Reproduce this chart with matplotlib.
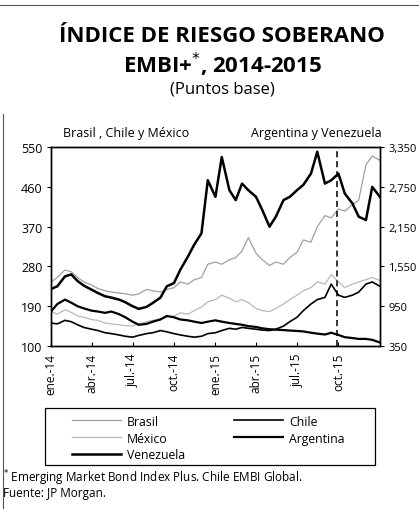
import pandas as pd
import matplotlib
import matplotlib.pyplot as plt
from matplotlib.lines import Line2D
from matplotlib.patches import Rectangle

plt.rcParams['font.family'] = ['Open Sans', 'DejaVu Sans']

# Semi-monthly readings, 1 Jan 2014 .. 1 Jan 2016
dates = pd.date_range('2014-01-01', '2016-01-01', freq='SMS')

# Left axis (pb)
brasil = [245, 255, 272, 268, 255, 245, 238, 230, 225, 222, 220, 218,
          215, 218, 228, 225, 222, 228, 232, 245, 240, 250, 255, 285,
          290, 285, 295, 300, 315, 345, 310, 295, 282, 290, 285, 300,
          312, 340, 335, 370, 395, 390, 410, 405, 420, 430, 510, 530, 520]
mexico = [178, 172, 182, 176, 168, 165, 160, 158, 152, 150, 148, 146,
          145, 150, 155, 158, 162, 165, 168, 175, 172, 180, 188, 200,
          205, 215, 208, 200, 205, 198, 185, 180, 178, 185, 195, 205,
          215, 225, 232, 245, 240, 262, 245, 232, 240, 245, 250, 255, 248]
chile = [152, 150, 158, 155, 148, 142, 138, 135, 130, 128, 125, 122,
         120, 124, 128, 130, 135, 132, 128, 125, 122, 120, 122, 128,
         130, 135, 140, 138, 142, 140, 138, 136, 135, 138, 145, 155,
         165, 180, 195, 205, 210, 240, 215, 210, 215, 222, 240, 245, 235]

# Right axis (pb)
argentina = [870, 983, 1050, 1003, 950, 917, 883, 870, 850, 870, 830, 783,
             717, 670, 683, 717, 750, 803, 783, 750, 737, 717, 697, 717,
             737, 717, 697, 683, 670, 650, 637, 617, 603, 597, 590, 583,
             577, 570, 550, 537, 523, 550, 517, 483, 470, 457, 457, 443, 403]
venezuela = [1210, 1250, 1400, 1430, 1330, 1260, 1200, 1150, 1100, 1080, 1050, 1010,
             950, 910, 940, 1000, 1080, 1250, 1300, 1500, 1700, 1880, 2050, 2850,
             2600, 3200, 2700, 2550, 2800, 2700, 2600, 2400, 2150, 2300, 2550, 2600,
             2700, 2780, 2950, 3280, 2800, 2850, 2950, 2650, 2500, 2300, 2250, 2750, 2600]

left_ticks = [100, 190, 280, 370, 460, 550]
right_ticks = [350, 950, 1550, 2150, 2750, 3350]
right_labels = ['350', '950', '1,550', '2,150', '2,750', '3,350']
x_ticks = pd.to_datetime(['2014-01-01', '2014-04-01', '2014-07-01', '2014-10-01',
                          '2015-01-01', '2015-04-01', '2015-07-01', '2015-10-01'])
x_labels = ['ene.-14', 'abr.-14', 'jul.-14', 'oct.-14',
            'ene.-15', 'abr.-15', 'jul.-15', 'oct.-15']
marker_date = pd.Timestamp('2015-09-28')

fig = plt.figure(figsize=(4.19, 5.10), dpi=100)
ax = fig.add_axes([0.1217, 0.3196, 0.785, 0.390])
ax2 = ax.twinx()

l_br, = ax.plot(dates, brasil, color='#a0a0a0', lw=0.9, label='Brasil')
l_mx, = ax.plot(dates, mexico, color='#b8b8b8', lw=0.9, label='México')
l_cl, = ax.plot(dates, chile, color='black', lw=1.2, label='Chile')
l_ar, = ax2.plot(dates, argentina, color='black', lw=1.6, label='Argentina')
l_ve, = ax2.plot(dates, venezuela, color='black', lw=1.8, label='Venezuela')
ax.axvline(marker_date, color='black', lw=1.1, ls=(0, (4, 2.5)))

ax.set_xlim(dates[0], dates[-1])
ax.set_ylim(100, 550)
ax2.set_ylim(350, 3350)
ax.set_yticks(left_ticks)
ax2.set_yticks(right_ticks)
ax2.set_yticklabels(right_labels)
ax.set_xticks(x_ticks)
ax.set_xticklabels(x_labels, rotation=90, fontsize=8.5)
ax.tick_params(axis='y', labelsize=9, length=3, direction='out', pad=3)
ax2.tick_params(axis='y', labelsize=8, length=3, direction='out', pad=3)
ax.tick_params(axis='x', length=3, direction='in', pad=5)
for a in (ax, ax2):
    for s in a.spines.values():
        s.set_linewidth(1.0)

# Titles
fig.text(0.53, 0.929, 'ÍNDICE DE RIESGO SOBERANO', ha='center', va='center',
         fontsize=16, fontweight='bold')
fig.text(0.53, 0.873, 'EMBI+$^{*}$, 2014-2015', ha='center', va='center',
         fontsize=16, fontweight='bold')
fig.text(0.53, 0.824, '(Puntos base)', ha='center', va='center', fontsize=12)
fig.text(0.30, 0.739, 'Brasil , Chile y México', ha='center', va='center', fontsize=9)
fig.text(0.755, 0.739, 'Argentina y Venezuela', ha='center', va='center', fontsize=9)

# Legend (frame drawn separately)
leg = fig.legend([l_br, l_mx, l_ve, l_cl, l_ar],
                 ['Brasil', 'México', 'Venezuela', 'Chile', 'Argentina'],
                 ncol=2, loc='upper left', bbox_to_anchor=(0.172, 0.185),
                 fontsize=8.8, handlelength=4.0, handletextpad=0.5,
                 labelspacing=0.32, columnspacing=4.0, borderpad=0,
                 borderaxespad=0, frameon=False)
fig.add_artist(Rectangle((45 / 419, 1 - 466 / 510), 330 / 419, 57 / 510,
                         transform=fig.transFigure, fill=False,
                         edgecolor='black', lw=0.9))

# Notes
fig.text(0.008, 0.063, '$^{*}$ Emerging Market Bond Index Plus. Chile EMBI Global.',
         ha='left', va='center', fontsize=8.5)
fig.text(0.008, 0.033, 'Fuente: JP Morgan.', ha='left', va='center', fontsize=8.5)

# Page border remains
fig.add_artist(Line2D([0, 1], [0.989, 0.989], color='#555555', lw=0.8))
fig.add_artist(Line2D([0.008, 0.008], [0.0, 0.775], color='#555555', lw=0.8))

fig.savefig('out.png', dpi=100)
